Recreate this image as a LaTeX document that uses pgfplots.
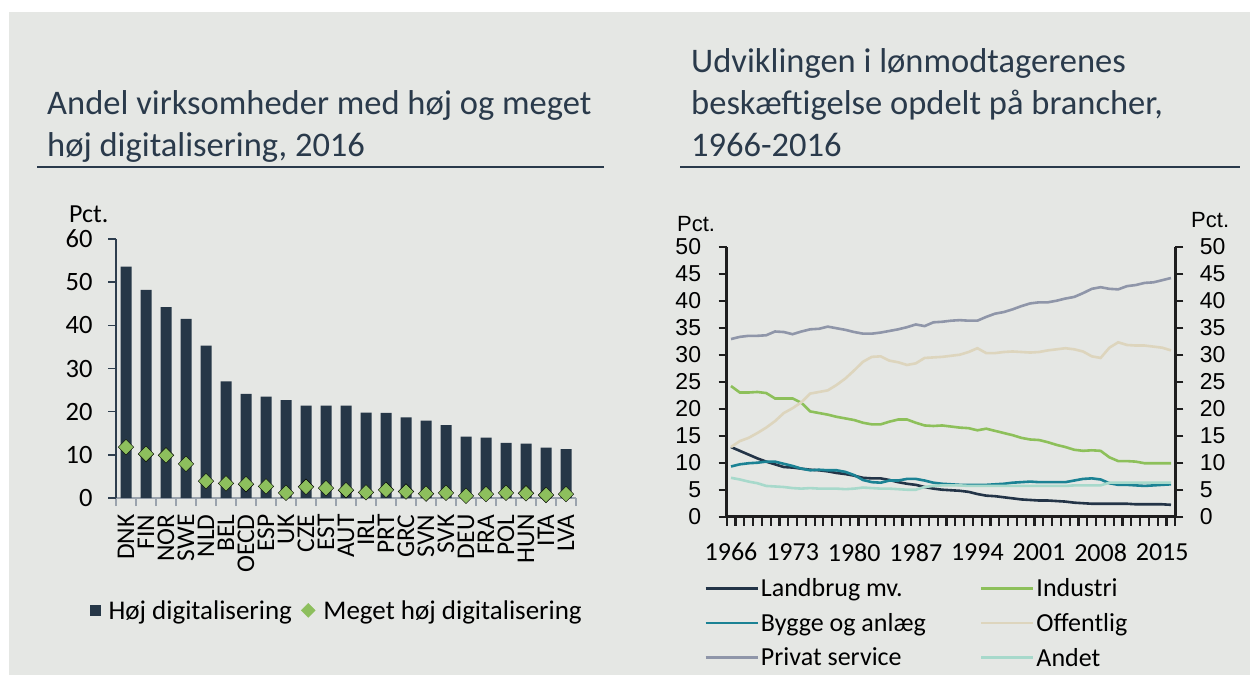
\documentclass[border=0pt]{standalone}
\usepackage{pgfplots}
\pgfplotsset{compat=1.18}
\usepackage{pgfplotstable}
\usepackage{fontspec}
\setmainfont{Carlito}
\newfontfamily\arial{Liberation Sans}

\definecolor{bgc}{HTML}{E5E7E4}
\definecolor{titlec}{HTML}{2A3A4B}
\definecolor{barc}{HTML}{263747}
\definecolor{greenc}{HTML}{8DBF5D}
\definecolor{axgray}{HTML}{9AA3AD}
\definecolor{navy}{HTML}{2E3E4E}
\definecolor{landc}{HTML}{233447}
\definecolor{indc}{HTML}{8DC05A}
\definecolor{bygc}{HTML}{1B8294}
\definecolor{offc}{HTML}{DDD5BD}
\definecolor{privc}{HTML}{8F96A9}
\definecolor{andc}{HTML}{A7D9CB}
\definecolor{axblack}{HTML}{1E1E1E}

\newcommand{\fs}[1]{\fontsize{#1}{#1}\selectfont}

% year, landbrug, industri, bygge, offentlig, privat, andet
\pgfplotstableread{
year land ind byg off priv andet
1966 12.9 24.2 9.3 12.9 32.9 7.2
1967 12.2 23.0 9.7 14.0 33.3 6.9
1968 11.5 23.0 9.9 14.6 33.5 6.5
1969 10.8 23.1 10.0 15.5 33.5 6.2
1970 10.2 22.9 10.2 16.5 33.6 5.7
1971 9.7 21.9 10.2 17.7 34.3 5.6
1972 9.2 21.9 9.8 19.2 34.2 5.5
1973 9.1 21.9 9.4 20.1 33.8 5.3
1974 8.9 21.1 8.9 21.2 34.3 5.2
1975 8.7 19.5 8.6 22.8 34.7 5.3
1976 8.6 19.2 8.7 23.1 34.8 5.2
1977 8.4 18.9 8.6 23.4 35.2 5.2
1978 8.1 18.5 8.6 24.4 34.9 5.2
1979 7.9 18.2 8.3 25.6 34.6 5.1
1980 7.6 17.9 7.7 27.1 34.2 5.2
1981 7.2 17.4 6.8 28.7 33.9 5.4
1982 7.1 17.1 6.4 29.6 33.9 5.3
1983 7.1 17.1 6.3 29.7 34.1 5.2
1984 6.8 17.6 6.7 28.9 34.4 5.2
1985 6.4 18.0 6.7 28.6 34.7 5.1
1986 6.1 18.0 7.0 28.1 35.1 5.0
1987 5.9 17.4 7.0 28.4 35.6 5.0
1988 5.5 16.9 6.7 29.4 35.3 5.5
1989 5.2 16.8 6.3 29.5 36.0 5.7
1990 5.0 16.9 6.1 29.6 36.1 5.8
1991 4.9 16.7 6.0 29.8 36.3 5.8
1992 4.8 16.5 5.9 30.0 36.4 5.8
1993 4.6 16.4 5.9 30.5 36.3 5.7
1994 4.2 16.0 5.9 31.2 36.3 5.7
1995 3.9 16.3 5.9 30.3 37.0 5.7
1996 3.8 15.9 6.0 30.3 37.6 5.7
1997 3.6 15.5 6.1 30.5 37.9 5.7
1998 3.4 15.1 6.3 30.6 38.4 5.7
1999 3.2 14.6 6.4 30.5 39.0 5.7
2000 3.1 14.3 6.5 30.4 39.5 5.7
2001 3.0 14.2 6.4 30.5 39.7 5.7
2002 3.0 13.8 6.4 30.8 39.7 5.7
2003 2.9 13.3 6.4 31.0 40.0 5.7
2004 2.8 12.9 6.4 31.2 40.4 5.7
2005 2.6 12.4 6.7 31.0 40.7 5.8
2006 2.5 12.2 7.0 30.6 41.4 5.8
2007 2.4 12.3 7.1 29.7 42.2 5.8
2008 2.4 12.2 6.9 29.4 42.5 5.8
2009 2.4 11.0 6.2 31.3 42.2 6.3
2010 2.4 10.3 5.9 32.3 42.1 6.3
2011 2.4 10.3 5.9 31.8 42.7 6.3
2012 2.3 10.2 5.8 31.7 42.9 6.3
2013 2.3 9.9 5.7 31.7 43.3 6.3
2014 2.3 9.9 5.8 31.5 43.4 6.3
2015 2.3 9.9 5.9 31.3 43.8 6.3
2016 2.2 9.9 6.0 30.8 44.2 6.3
}\branchetab

% digitalisering 2016: index, hoej, meget hoej
\pgfplotstableread{
i hoej meget
0 53.6 11.8
1 48.2 10.2
2 44.2 9.9
3 41.5 7.9
4 35.3 3.9
5 27.0 3.4
6 24.1 3.2
7 23.5 2.7
8 22.7 1.2
9 21.4 2.6
10 21.4 2.3
11 21.4 1.8
12 19.8 1.3
13 19.7 1.9
14 18.7 1.5
15 17.9 1.0
16 16.9 1.2
17 14.2 0.5
18 14.0 0.9
19 12.8 1.2
20 12.6 1.1
21 11.7 0.7
22 11.3 0.9
}\digitab

\begin{document}
\begin{tikzpicture}
\fill[white] (0pt,0pt) rectangle (1255pt,-675pt);
\fill[bgc] (9pt,-12pt) rectangle (1250pt,-675pt);

% titles
\begin{scope}[every node/.style={anchor=base west, text=titlec, inner sep=0pt, font=\fs{34.5}}]
\node at (47pt,-114pt) {Andel virksomheder med høj og meget};
\node at (47pt,-156pt) {høj digitalisering, 2016};
\node at (691pt,-72pt) {Udviklingen i lønmodtagerenes};
\node at (691pt,-114pt) {beskæftigelse opdelt på brancher,};
\node at (691pt,-156pt) {1966-2016};
\end{scope}
\draw[titlec, line width=2pt] (37pt,-167pt) -- (604pt,-167pt);
\draw[titlec, line width=2pt] (680pt,-167pt) -- (1240pt,-167pt);

% left chart
\node[anchor=base west, inner sep=0pt, font=\fs{26}] at (69pt,-222pt) {Pct.};
\begin{axis}[
  scale only axis, width=460pt, height=259pt,
  at={(116pt,-498pt)}, anchor=south west,
  xmin=-0.5, xmax=22.5, ymin=0, ymax=60,
  axis x line*=bottom, axis y line*=left,
  x axis line style={draw=axgray, line width=1.5pt},
  y axis line style={draw=navy, line width=1.5pt},
  tick align=outside,
  xtick={0,...,22},
  xticklabels={DNK,FIN,NOR,SWE,NLD,BEL,OECD,ESP,UK,CZE,EST,AUT,IRL,PRT,GRC,SVN,SVK,DEU,FRA,POL,HUN,ITA,LVA},
  xticklabel style={yshift=-5pt, rotate=90, anchor=east, font=\fs{25.5}},
  major x tick style={draw=none},
  minor xtick={-0.5,0.5,...,22.5},
  minor x tick style={draw=axgray, line width=1.2pt},
  minor tick length=8pt,
  ytick={0,10,...,60},
  y tick style={draw=navy, line width=1.5pt},
  major tick length=8pt,
  yticklabel style={font=\fs{26.5}, xshift=-12pt},
  /pgf/number format/assume math mode=true,
  legend columns=2,
  legend style={at={(-0.058,-0.434)}, anchor=west, draw=none, fill=none,
    font=\fs{27}, inner sep=0pt,
    /tikz/every odd column/.append style={column sep=7pt},
    /tikz/every even column/.append style={column sep=8pt},
    nodes={inner sep=1pt}},
]
\addplot[ybar, bar width=11pt, fill=barc, draw=none,
  legend image code/.code={\fill[barc] (0pt,-5.5pt) rectangle (11pt,5.5pt);}]
  table[x=i, y=hoej] {\digitab};
\addlegendentry{Høj digitalisering}
\addplot[only marks, mark=square*, mark size=5.5pt,
  mark options={rotate=45, fill=greenc, draw=none},
  legend image code/.code={\fill[greenc] (0pt,0pt) -- (7pt,7pt) -- (14pt,0pt) -- (7pt,-7pt) -- cycle;}]
  table[x=i, y=meget] {\digitab};
\addlegendentry{Meget høj digitalisering}
\end{axis}

% right chart
\node[anchor=base west, inner sep=0pt, font=\arial\fs{22}] at (677pt,-231pt) {Pct.};
\node[anchor=base west, inner sep=0pt, font=\arial\fs{22}] at (1191pt,-227pt) {Pct.};
\begin{axis}[
  scale only axis, width=448.8pt, height=270pt,
  at={(726.6pt,-516.7pt)}, anchor=south west,
  xmin=1965.5, xmax=2016.5, ymin=0, ymax=50,
  axis x line*=bottom, axis y line*=left,
  axis line style={draw=axblack, line width=2.6pt},
  tick align=outside,
  xtick={1966,1973,...,2015},
  xticklabels={1966,1973,1980,1987,1994,2001,2008,2015},
  xticklabel style={font=\fs{26}, yshift=-15pt},
  major x tick style={draw=none},
  minor xtick={1965.5,1966.5,...,2016.5},
  minor x tick style={draw=axblack, line width=2.2pt},
  minor tick length=9pt,
  ytick={0,5,...,50},
  y tick style={draw=axblack, line width=2.4pt},
  major tick length=8pt,
  yticklabel style={font=\arial\fs{23}, xshift=-14pt},
  /pgf/number format/assume math mode=true,
  legend columns=2,
  legend cell align=left,
  legend style={at={(-0.05,-0.222)}, anchor=north west, draw=none, fill=none,
    font=\fs{26}, inner sep=0pt, row sep=11pt,
    /tikz/every even column/.append style={column sep=52pt},
    nodes={inner sep=2pt}},
  legend image code/.code={\draw[#1] (0pt,0pt) -- (52pt,0pt);},
  every axis plot/.append style={line width=2.6pt},
]
\addplot[landc] table[x=year, y=land] {\branchetab};
\addlegendentry{Landbrug mv.}
\addplot[indc] table[x=year, y=ind] {\branchetab};
\addlegendentry{Industri}
\addplot[bygc] table[x=year, y=byg] {\branchetab};
\addlegendentry{Bygge og anlæg}
\addplot[offc] table[x=year, y=off] {\branchetab};
\addlegendentry{Offentlig}
\addplot[privc] table[x=year, y=priv] {\branchetab};
\addlegendentry{Privat service}
\addplot[andc] table[x=year, y=andet] {\branchetab};
\addlegendentry{Andet}
\end{axis}
\begin{axis}[
  scale only axis, width=448.8pt, height=270pt,
  at={(726.6pt,-516.7pt)}, anchor=south west,
  xmin=1965.5, xmax=2016.5, ymin=0, ymax=50,
  axis x line=none, axis y line*=right,
  axis line style={draw=axblack, line width=2.6pt},
  tick align=outside,
  ytick={0,5,...,50},
  y tick style={draw=axblack, line width=2.4pt},
  major tick length=8pt,
  yticklabel style={font=\arial\fs{23}, xshift=13pt},
  /pgf/number format/assume math mode=true,
]
\addplot[draw=none] coordinates {(1966,0)};
\end{axis}
\end{tikzpicture}
\end{document}
